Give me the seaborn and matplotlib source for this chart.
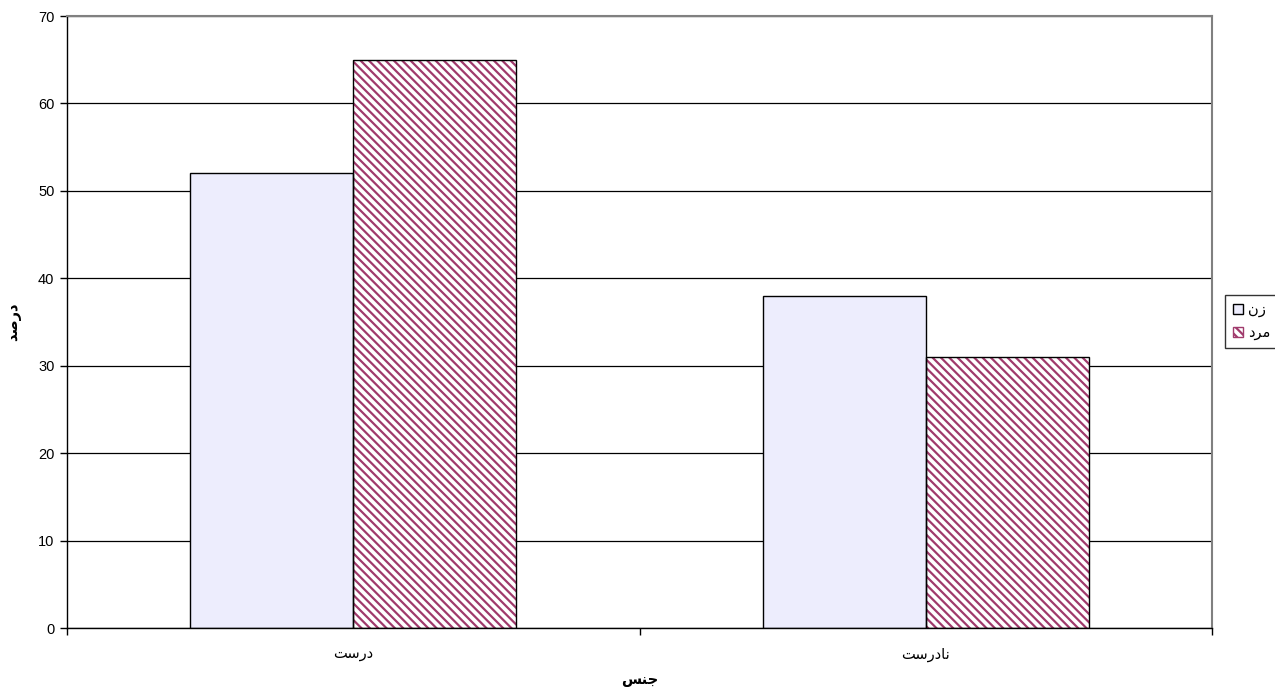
import matplotlib
matplotlib.use("Agg")
import matplotlib.pyplot as plt
from matplotlib.patches import Rectangle
import seaborn as sns
import pandas as pd

# Arabic strings in presentation forms, stored in left-to-right drawing order
# so that they appear joined and right-to-left when rendered.
categories = ["\uFE96\uFEB3\uFEAD\uFEA9",               # درست
              "\uFE96\uFEB3\uFEAD\uFEA9\uFE8E\uFEE7"]   # نادرست
series_names = ["\uFEE5\uFEAF",        # زن
                "\uFEA9\uFEAE\uFEE3"]  # مرد
women = [52, 38]
men = [65, 31]
x_label = "\uFEB2\uFEE8\uFE9F"              # جنس
y_label = "\uFEAA\uFEBB\uFEAD\uFEA9"        # درصد
y_ticks = [0, 10, 20, 30, 40, 50, 60, 70]

df = pd.DataFrame({
    "cat": categories * 2,
    "series": [series_names[0]] * 2 + [series_names[1]] * 2,
    "value": women + men,
})

sns.set_theme(style="white")
plt.rcParams["font.family"] = ["Liberation Sans", "DejaVu Sans"]
plt.rcParams["hatch.linewidth"] = 1.6
plt.rcParams["text.color"] = "black"
plt.rcParams["xtick.color"] = "black"
plt.rcParams["ytick.color"] = "black"
plt.rcParams["axes.labelcolor"] = "black"

fig = plt.figure(figsize=(12.75, 6.91), dpi=100)
ax = fig.add_axes([67 / 1275, 1 - 628 / 691, (1212 - 67) / 1275, (628 - 16) / 691])

women_face = "#EDEDFD"
men_hatch = "#A03A6C"
men_hatch_pattern = "\\\\\\\\"

sns.barplot(data=df, x="cat", y="value", hue="series", order=categories,
            hue_order=series_names, width=0.57, dodge=True, gap=0,
            palette=[women_face, "white"], saturation=1, ax=ax,
            legend=False, linewidth=0, errorbar=None)

containers = ax.containers
for bar in containers[1]:
    bar.set_hatch(men_hatch_pattern)
    bar.set_edgecolor(men_hatch)
    bar.set_linewidth(0)

# black outlines drawn from each bar's own geometry
for cont in containers:
    for bar in cont:
        ax.add_patch(Rectangle(bar.get_xy(), bar.get_width(), bar.get_height(),
                               fill=False, edgecolor="black", linewidth=1.0,
                               zorder=bar.get_zorder() + 0.1))

ax.set_xlim(-0.5, 1.5)
ax.set_ylim(0, 70)
ax.set_yticks(y_ticks)
ax.yaxis.grid(True, color="black", linewidth=0.9)
ax.set_axisbelow(True)

# category ticks sit between groups; labels centered under groups
ax.set_xticks([-0.5, 0.5, 1.5])
ax.set_xticklabels([])
ax.set_xticks([0, 1], minor=True)
ax.set_xticklabels(categories, minor=True, fontsize=10.5)
ax.tick_params(axis="x", which="major", direction="out", length=5, width=1,
               color="black", bottom=True)
ax.tick_params(axis="x", which="minor", length=0, pad=14)
ax.tick_params(axis="y", direction="out", length=5, width=1, color="black",
               left=True, labelsize=10.5, pad=4)

for side in ["left", "bottom"]:
    ax.spines[side].set_color("black")
    ax.spines[side].set_linewidth(1.0)
for side in ["top", "right"]:
    ax.spines[side].set_visible(True)
    ax.spines[side].set_color("#808080")
    ax.spines[side].set_linewidth(1.5)
ax.spines["bottom"].set_zorder(5)

ax.set_xlabel(x_label, fontsize=10.5, fontweight="bold", labelpad=8)
ax.set_ylabel(y_label, fontsize=10.5, fontweight="bold")
ax.yaxis.set_label_coords(-46 / 1145, 0.5)

handles = [Rectangle((0, 0), 1, 1, facecolor=women_face, edgecolor="black", linewidth=1.0),
           Rectangle((0, 0), 1, 1, facecolor="white", edgecolor=men_hatch,
                     hatch=men_hatch_pattern, linewidth=1.0)]
leg = fig.legend(handles, series_names, loc="upper left",
                 bbox_to_anchor=(1225 / 1275, 1 - 295 / 691), markerfirst=True,
                 frameon=True, fontsize=10.5, handlelength=0.7, handleheight=0.7,
                 handletextpad=0.3, borderpad=0.55, labelspacing=0.6,
                 fancybox=False, borderaxespad=0)
leg.get_frame().set_edgecolor("black")
leg.get_frame().set_linewidth(1.0)

fig.savefig("out.png", dpi=100, facecolor="white")
